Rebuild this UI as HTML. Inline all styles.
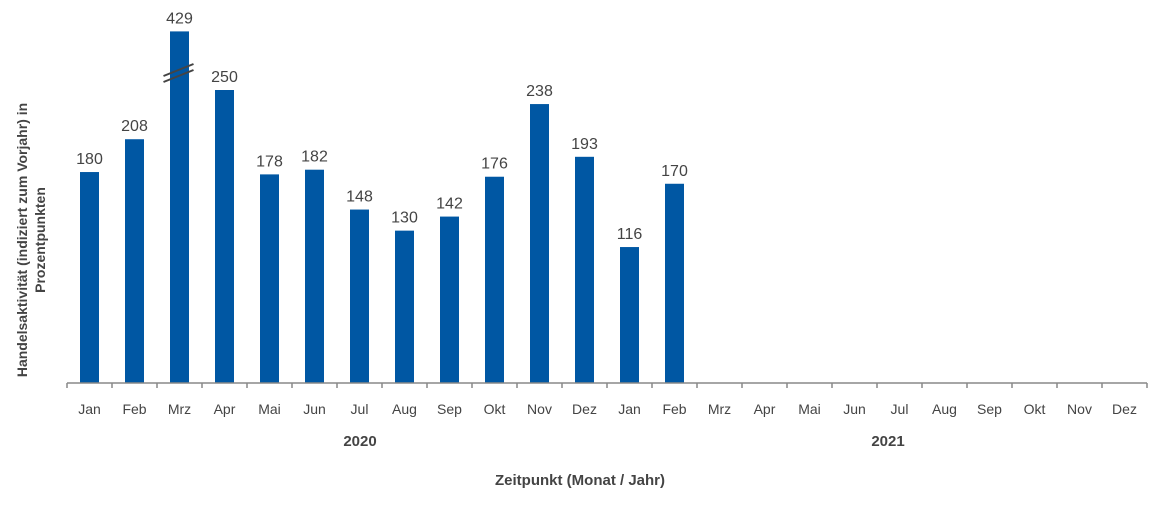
<!DOCTYPE html>
<html><head><meta charset="utf-8"><style>
body{margin:0;background:#fff;font-family:"Liberation Sans",sans-serif}
svg text{font-family:"Liberation Sans",sans-serif}
</style></head><body>
<svg id="chart" width="1169" height="500" viewBox="0 0 1169 500" xmlns="http://www.w3.org/2000/svg">
<g id="bars"></g>
<g id="labels"></g>
<line x1="67" y1="383" x2="1147" y2="383" stroke="#888" stroke-width="1.5"/>
<g id="ticks"></g>
<text x="360" y="446" font-size="15" font-weight="bold" fill="#444" text-anchor="middle">2020</text>
<text x="888" y="446" font-size="15" font-weight="bold" fill="#444" text-anchor="middle">2021</text>
<text x="580" y="485" font-size="15" font-weight="bold" fill="#444" text-anchor="middle">Zeitpunkt (Monat / Jahr)</text>
<text transform="translate(27,240) rotate(-90)" font-size="14" font-weight="bold" fill="#444" text-anchor="middle">Handelsaktivität (indiziert zum Vorjahr) in</text>
<text transform="translate(45,240) rotate(-90)" font-size="14" font-weight="bold" fill="#444" text-anchor="middle">Prozentpunkten</text>
</svg>
<script>
const categories=["Jan","Feb","Mrz","Apr","Mai","Jun","Jul","Aug","Sep","Okt","Nov","Dez","Jan","Feb","Mrz","Apr","Mai","Jun","Jul","Aug","Sep","Okt","Nov","Dez"];
const values=[180,208,429,250,178,182,148,130,142,176,238,193,116,170,null,null,null,null,null,null,null,null,null,null];
const breakCap=300;
const ns="http://www.w3.org/2000/svg";
const x0=67,step=45,base=383,scale=1.172,bw=19;
function xc(i){return x0+step*i+step/2;}
function yv(v){return base-Math.min(v,breakCap)*scale;}
const gb=document.getElementById('bars'),gl=document.getElementById('labels'),gt=document.getElementById('ticks');
for(let i=0;i<=categories.length;i++){
  const t=document.createElementNS(ns,'line');
  
  
  t.setAttribute('x1',x0+step*i);t.setAttribute('x2',x0+step*i);t.setAttribute('y1',base);t.setAttribute('y2',base+5);
  t.setAttribute('stroke','#888');t.setAttribute('stroke-width','1.5');gt.appendChild(t);
}
categories.forEach((c,i)=>{
  const l=document.createElementNS(ns,'text');
  
  
  l.setAttribute('x',xc(i));l.setAttribute('y',414);l.setAttribute('font-size','14');l.setAttribute('fill','#444');l.setAttribute('text-anchor','middle');
  l.textContent=c;gl.appendChild(l);
  const v=values[i];if(v==null)return;
  const y=yv(v);
  const r=document.createElementNS(ns,'rect');
  
  
  r.setAttribute('x',xc(i)-bw/2);r.setAttribute('y',y);r.setAttribute('width',bw);r.setAttribute('height',base-y);r.setAttribute('fill','#0057a3');
  gb.appendChild(r);
  const vl=document.createElementNS(ns,'text');
  
  
  vl.setAttribute('x',xc(i));vl.setAttribute('y',y-8);vl.setAttribute('font-size','16');vl.setAttribute('fill','#444');vl.setAttribute('text-anchor','middle');
  vl.textContent=v;gb.appendChild(vl);
  if(v>breakCap){
    [0,6].forEach(d=>{
      const b=document.createElementNS(ns,'line');
      
      
      b.setAttribute('x1',xc(i)-16);b.setAttribute('y1',76+d);b.setAttribute('x2',xc(i)+14);b.setAttribute('y2',64+d);
      b.setAttribute('stroke','#444');b.setAttribute('stroke-width','2');gb.appendChild(b);
    });
  }
});
</script>
</body></html>
